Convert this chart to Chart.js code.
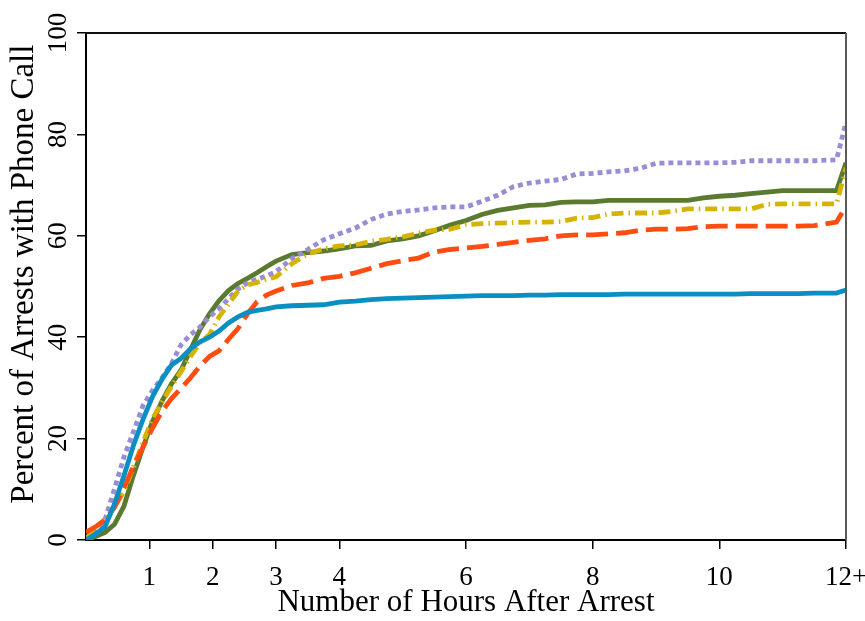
<!DOCTYPE html>
<html>
<head>
<meta charset="utf-8">
<script src="https://cdn.jsdelivr.net/npm/chart.js@4.4.1/dist/chart.umd.min.js"></script>
<style>
  html, body { margin: 0; padding: 0; background: #fff; }
  #wrap { width: 865px; height: 621px; }
</style>
</head>
<body>
<div id="wrap"><canvas id="phone-chart" width="865" height="621"></canvas></div>
<script>
// hours after arrest
var hours = [0, 0.15, 0.3, 0.45, 0.6, 0.75, 0.9, 1.05, 1.2, 1.35, 1.5, 1.65, 1.8, 1.95, 2.1, 2.25, 2.4, 2.55, 2.7, 2.85, 3,
    3.25, 3.5, 3.75, 4, 4.25, 4.5, 4.75, 5, 5.25, 5.5, 5.75, 6, 6.25, 6.5, 6.75, 7, 7.25, 7.5, 7.75, 8,
    8.25, 8.5, 8.75, 9, 9.25, 9.5, 9.75, 10, 10.25, 10.5, 10.75, 11, 11.25, 11.5, 11.85, 12];

var blueLine = [0, 1.2, 2.6, 7.1, 12.7, 18.7, 23.8, 28.3, 31.7, 34.5, 35.8, 37.7, 39.1, 40, 41.2, 42.8, 44, 44.9, 45.3, 45.6, 46,
    46.2, 46.3, 46.4, 46.9, 47.1, 47.4, 47.6, 47.7, 47.8, 47.9, 48, 48.1, 48.2, 48.2, 48.2, 48.3, 48.3, 48.4, 48.4, 48.4,
    48.4, 48.5, 48.5, 48.5, 48.5, 48.5, 48.5, 48.5, 48.5, 48.6, 48.6, 48.6, 48.6, 48.7, 48.7, 49.3];

var greenLine = [0, 0.7, 1.5, 3.1, 6.7, 12.8, 18.3, 23.4, 27.4, 30.8, 33.5, 37.5, 41.5, 44.6, 47.2, 49.2, 50.6, 51.6, 52.7, 53.9, 55,
    56.3, 56.7, 57, 57.4, 58, 58.1, 59, 59.4, 60, 61, 62.1, 63, 64.2, 65, 65.5, 66, 66.1, 66.6, 66.7, 66.7,
    67, 67, 67, 67, 67, 67, 67.5, 67.8, 68, 68.3, 68.6, 68.9, 68.9, 68.9, 68.9, 74.4];

var lavenderLine = [0.3, 1.5, 4, 10.1, 16.4, 21.4, 26.5, 29.5, 32, 34.8, 38.5, 40.5, 42, 44, 45.6, 47.6, 49.5, 50.7, 51.4, 52.1, 52.9,
    55.5, 57.3, 59.2, 60.4, 61.5, 63.2, 64.3, 64.8, 65.1, 65.5, 65.7, 65.7, 66.8, 68, 69.7, 70.4, 70.8, 71.1, 72.2, 72.3,
    72.6, 72.8, 73.3, 74.3, 74.4, 74.4, 74.4, 74.4, 74.5, 74.8, 74.8, 74.8, 74.8, 74.8, 75, 82.4];

var yellowLine = [0.5, 1.5, 3.2, 6.5, 9.6, 14.4, 19.3, 23.9, 27.2, 30.3, 33.2, 36.2, 38.9, 40.5, 44, 46.5, 49.1, 50.3, 50.8, 51.4, 51.9,
    54.5, 56.4, 57.4, 58, 58.2, 58.9, 59.3, 59.8, 60.5, 61.1, 61.3, 62.2, 62.4, 62.5, 62.6, 62.7, 62.7, 62.8, 63.5, 63.6,
    64.3, 64.5, 64.5, 64.5, 64.8, 65.3, 65.3, 65.3, 65.3, 65.3, 66.2, 66.3, 66.3, 66.3, 66.3, 73.4];

var orangeLine = [1.5, 2.6, 4, 6.4, 10.3, 14.6, 18.3, 22.1, 25.4, 27.9, 29.9, 32, 34.3, 36.2, 37.3, 39.6, 41.7, 44.6, 47, 48.3, 49.1,
    50.2, 50.7, 51.6, 52, 52.7, 53.6, 54.5, 55.1, 55.6, 56.8, 57.3, 57.6, 57.9, 58.3, 58.7, 59.1, 59.4, 60, 60.2, 60.2,
    60.4, 60.6, 61.1, 61.3, 61.3, 61.4, 61.8, 61.9, 61.9, 61.9, 61.9, 61.9, 61.9, 62, 62.7, 65.9];

var xTickValues = [1, 2, 3, 4, 6, 8, 10, 12];
var xTickLabels = ['1', '2', '3', '4', '6', '8', '10', '12+'];

function toPoints(ys) {
    return ys.map(function(v, i) { return {x: hours[i], y: v}; });
}

function lineSet(ys, color, dash, width) {
    return {
        data: toPoints(ys),
        borderColor: color,
        borderWidth: width,
        borderDash: dash,
        borderCapStyle: 'butt',
        borderJoinStyle: 'miter',
        pointRadius: 0,
        tension: 0,
        fill: false
    };
}

// top and right frame lines
var framePlugin = {
    id: 'frame',
    afterDraw: function(chart) {
        var a = chart.chartArea, c = chart.ctx;
        c.save();
        c.lineWidth = 2;
        c.strokeStyle = '#111';
        c.beginPath();
        c.moveTo(a.left, a.top);
        c.lineTo(a.right, a.top);
        c.stroke();
        c.strokeStyle = '#5a5a5a';
        c.beginPath();
        c.moveTo(a.right, a.top);
        c.lineTo(a.right, a.bottom);
        c.stroke();
        c.restore();
    }
};

var serif = 'Liberation Serif, Times New Roman, serif';

var ctx = document.getElementById('phone-chart').getContext('2d');
var phoneChart = new Chart(ctx, {
    type: 'line',
    data: {
        datasets: [
            lineSet(blueLine, '#0b8fc3', [], 4.8),
            lineSet(orangeLine, '#ff4d12', [22, 8], 4.8),
            lineSet(yellowLine, '#d6b300', [12, 5, 1.5, 5], 4.8),
            lineSet(lavenderLine, '#9a8dd6', [5, 4], 4.8),
            lineSet(greenLine, '#5a7a30', [], 4.8)
        ]
    },
    options: {
        responsive: false,
        animation: false,
        layout: {
            padding: {top: 33, right: 19, left: 0, bottom: 0}
        },
        scales: {
            x: {
                type: 'linear',
                min: 0,
                max: 12,
                afterBuildTicks: function(scale) {
                    scale.ticks = xTickValues.map(function(v) { return {value: v}; });
                },
                afterFit: function(scale) {
                    scale.height = 81;
                    scale.paddingLeft = 0;
                    scale.paddingRight = 0;
                },
                ticks: {
                    autoSkip: false,
                    maxRotation: 0,
                    padding: 13,
                    color: '#000',
                    font: {family: serif, size: 27},
                    callback: function(value) {
                        var i = xTickValues.indexOf(value);
                        return i >= 0 ? xTickLabels[i] : '';
                    }
                },
                grid: {
                    drawOnChartArea: false,
                    drawTicks: true,
                    tickLength: 9,
                    color: '#000',
                    lineWidth: 1.5
                },
                border: {color: '#000', width: 2},
                title: {
                    display: true,
                    text: 'Number of Hours After Arrest',
                    color: '#000',
                    font: {family: serif, size: 31},
                    padding: {top: 0, bottom: 0}
                }
            },
            y: {
                min: 0,
                max: 100,
                afterFit: function(scale) {
                    scale.width = 86;
                    scale.paddingTop = 0;
                    scale.paddingBottom = 0;
                },
                ticks: {
                    stepSize: 20,
                    autoSkip: false,
                    minRotation: 90,
                    maxRotation: 90,
                    crossAlign: 'center',
                    padding: -2,
                    color: '#000',
                    font: {family: serif, size: 27}
                },
                grid: {
                    drawOnChartArea: false,
                    drawTicks: true,
                    tickLength: 9,
                    color: '#000',
                    lineWidth: 1.5
                },
                border: {color: '#000', width: 2},
                title: {
                    display: true,
                    text: '\u00a0\u00a0\u00a0Percent of Arrests with Phone Call',
                    color: '#000',
                    font: {family: serif, size: 33},
                    padding: {top: 5, bottom: 0}
                }
            }
        },
        plugins: {
            legend: {display: false},
            tooltip: {enabled: false}
        }
    },
    plugins: [framePlugin]
});
</script>
</body>
</html>
